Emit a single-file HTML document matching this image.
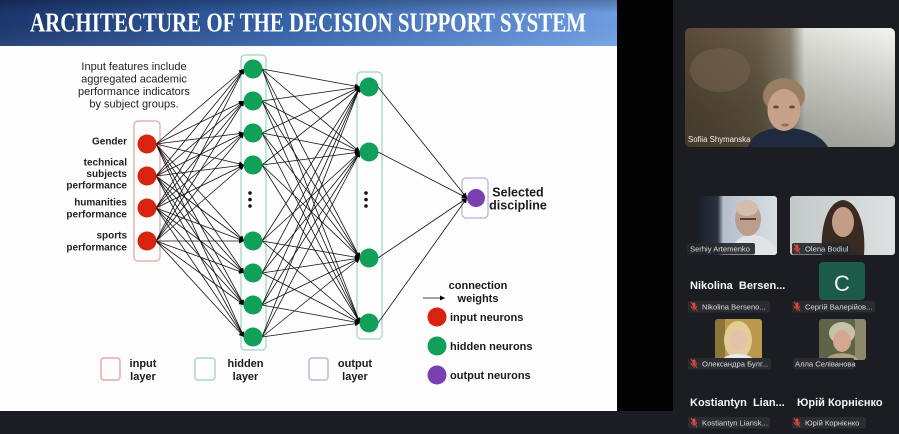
<!DOCTYPE html>
<html><head><meta charset="utf-8"><style>
html,body{margin:0;padding:0;background:#1b1d22;}
svg{display:block;}
.c line{stroke:#111;stroke-width:0.8;marker-end:url(#ah);}
.t{font-family:"Liberation Sans",Arial,sans-serif;}
.lb{font-family:"Liberation Sans","Noto Sans CJK SC",sans-serif;font-size:7.6px;fill:#dcdcdc;}
.nm{font-family:"Liberation Sans","Noto Sans CJK SC",sans-serif;font-size:11px;font-weight:bold;fill:#f4f4f4;}
</style></head><body>
<svg width="899" height="434" viewBox="0 0 899 434" xmlns="http://www.w3.org/2000/svg">
<defs>
<marker id="ah" viewBox="0 0 10 10" refX="10" refY="5" markerWidth="6" markerHeight="5" markerUnits="userSpaceOnUse" orient="auto"><path d="M0,0L10,5L0,10z" fill="#000"/></marker>
<linearGradient id="tg" x1="0" y1="0" x2="1" y2="0">
<stop offset="0" stop-color="#1a366c"/><stop offset="0.45" stop-color="#3461a8"/><stop offset="1" stop-color="#6e9ee2"/></linearGradient>
<linearGradient id="tv" x1="0" y1="0" x2="0" y2="1">
<stop offset="0" stop-color="#000" stop-opacity="0.25"/><stop offset="0.3" stop-color="#000" stop-opacity="0"/><stop offset="1" stop-color="#fff" stop-opacity="0.08"/></linearGradient>
<linearGradient id="mv" x1="0" y1="0" x2="1" y2="0">
<stop offset="0" stop-color="#5a4b38"/><stop offset="0.35" stop-color="#6a5c48"/><stop offset="0.5" stop-color="#8a8270"/><stop offset="0.57" stop-color="#dfe1da"/><stop offset="1" stop-color="#f4f5f0"/></linearGradient>
<linearGradient id="mv2" x1="0" y1="0" x2="0" y2="1">
<stop offset="0" stop-color="#000" stop-opacity="0"/><stop offset="1" stop-color="#1a1a10" stop-opacity="0.35"/></linearGradient>
<linearGradient id="s1" x1="0" y1="0" x2="1" y2="0">
<stop offset="0" stop-color="#1a1f2a"/><stop offset="0.25" stop-color="#2a3140"/><stop offset="0.32" stop-color="#b4bfcc"/><stop offset="1" stop-color="#d8dee4"/></linearGradient>
<linearGradient id="s2" x1="0" y1="0" x2="1" y2="0">
<stop offset="0" stop-color="#c3c8c8"/><stop offset="1" stop-color="#dde1e1"/></linearGradient>
</defs>

<!-- backgrounds -->
<rect x="0" y="0" width="899" height="434" fill="#1b1d22"/>
<rect x="617" y="0" width="56" height="411" fill="#030303"/>
<rect x="0" y="0" width="617" height="411" fill="#fdfdfd"/>

<!-- title -->
<rect x="0" y="0" width="617" height="46" fill="url(#tg)"/>
<rect x="0" y="0" width="617" height="46" fill="url(#tv)"/>
<text x="30" y="31.5" textLength="556" lengthAdjust="spacingAndGlyphs" font-family="'Liberation Serif',serif" font-weight="bold" font-size="27" fill="#fff">ARCHITECTURE OF THE DECISION SUPPORT SYSTEM</text>

<!-- intro text -->
<g class="t" font-size="11" fill="#222" text-anchor="middle">
<text x="134" y="70">Input features include</text>
<text x="134" y="82.5">aggregated academic</text>
<text x="134" y="95">performance indicators</text>
<text x="134" y="107.5">by subject groups.</text>
</g>

<!-- left labels -->
<g class="t" font-size="10" font-weight="bold" fill="#222" text-anchor="end">
<text x="127" y="144.5">Gender</text>
<text x="127" y="165.5">technical</text>
<text x="127" y="177">subjects</text>
<text x="127" y="188.5">performance</text>
<text x="127" y="205.5">humanities</text>
<text x="127" y="217.5">performance</text>
<text x="127" y="238.5">sports</text>
<text x="127" y="250.5">performance</text>
</g>

<!-- layer boxes -->
<rect x="134" y="121" width="26" height="140" rx="4" fill="none" stroke="#e6a3a3" stroke-width="1.2"/>
<rect x="241" y="55" width="25" height="295" rx="4" fill="none" stroke="#9dd5c5" stroke-width="1.2"/>
<rect x="357" y="72" width="25" height="267" rx="4" fill="none" stroke="#9dd5c5" stroke-width="1.2"/>
<rect x="462" y="178" width="26" height="40" rx="4" fill="none" stroke="#bcaedb" stroke-width="1.2"/>

<!-- connections -->
<g class="c">
<line x1="156" y1="144" x2="244" y2="69"/><line x1="156" y1="144" x2="244" y2="101"/><line x1="156" y1="144" x2="244" y2="133"/><line x1="156" y1="144" x2="244" y2="165"/><line x1="156" y1="144" x2="244" y2="241"/><line x1="156" y1="144" x2="244" y2="273"/><line x1="156" y1="144" x2="244" y2="305"/><line x1="156" y1="144" x2="244" y2="337"/>
<line x1="156" y1="176" x2="244" y2="69"/><line x1="156" y1="176" x2="244" y2="101"/><line x1="156" y1="176" x2="244" y2="133"/><line x1="156" y1="176" x2="244" y2="165"/><line x1="156" y1="176" x2="244" y2="241"/><line x1="156" y1="176" x2="244" y2="273"/><line x1="156" y1="176" x2="244" y2="305"/><line x1="156" y1="176" x2="244" y2="337"/>
<line x1="156" y1="208" x2="244" y2="69"/><line x1="156" y1="208" x2="244" y2="101"/><line x1="156" y1="208" x2="244" y2="133"/><line x1="156" y1="208" x2="244" y2="165"/><line x1="156" y1="208" x2="244" y2="241"/><line x1="156" y1="208" x2="244" y2="273"/><line x1="156" y1="208" x2="244" y2="305"/><line x1="156" y1="208" x2="244" y2="337"/>
<line x1="156" y1="241" x2="244" y2="69"/><line x1="156" y1="241" x2="244" y2="101"/><line x1="156" y1="241" x2="244" y2="133"/><line x1="156" y1="241" x2="244" y2="165"/><line x1="156" y1="241" x2="244" y2="241"/><line x1="156" y1="241" x2="244" y2="273"/><line x1="156" y1="241" x2="244" y2="305"/><line x1="156" y1="241" x2="244" y2="337"/>

<line x1="262" y1="69" x2="360" y2="87"/><line x1="262" y1="69" x2="360" y2="152"/><line x1="262" y1="69" x2="360" y2="258"/><line x1="262" y1="69" x2="360" y2="323"/>
<line x1="262" y1="101" x2="360" y2="87"/><line x1="262" y1="101" x2="360" y2="152"/><line x1="262" y1="101" x2="360" y2="258"/><line x1="262" y1="101" x2="360" y2="323"/>
<line x1="262" y1="133" x2="360" y2="87"/><line x1="262" y1="133" x2="360" y2="152"/><line x1="262" y1="133" x2="360" y2="258"/><line x1="262" y1="133" x2="360" y2="323"/>
<line x1="262" y1="165" x2="360" y2="87"/><line x1="262" y1="165" x2="360" y2="152"/><line x1="262" y1="165" x2="360" y2="258"/><line x1="262" y1="165" x2="360" y2="323"/>
<line x1="262" y1="241" x2="360" y2="87"/><line x1="262" y1="241" x2="360" y2="152"/><line x1="262" y1="241" x2="360" y2="258"/><line x1="262" y1="241" x2="360" y2="323"/>
<line x1="262" y1="273" x2="360" y2="87"/><line x1="262" y1="273" x2="360" y2="152"/><line x1="262" y1="273" x2="360" y2="258"/><line x1="262" y1="273" x2="360" y2="323"/>
<line x1="262" y1="305" x2="360" y2="87"/><line x1="262" y1="305" x2="360" y2="152"/><line x1="262" y1="305" x2="360" y2="258"/><line x1="262" y1="305" x2="360" y2="323"/>
<line x1="262" y1="337" x2="360" y2="87"/><line x1="262" y1="337" x2="360" y2="152"/><line x1="262" y1="337" x2="360" y2="258"/><line x1="262" y1="337" x2="360" y2="323"/>

<line x1="378" y1="87" x2="467" y2="198"/><line x1="378" y1="152" x2="467" y2="198"/><line x1="378" y1="258" x2="467" y2="198"/><line x1="378" y1="323" x2="467" y2="198"/>

<line x1="423" y1="298" x2="445" y2="298"/>
</g>

<!-- neurons -->
<g fill="#d8230f">
<circle cx="147" cy="144" r="9.5"/><circle cx="147" cy="176" r="9.5"/><circle cx="147" cy="208" r="9.5"/><circle cx="147" cy="241" r="9.5"/>
</g>
<g fill="#11a059">
<circle cx="253" cy="69" r="9.5"/><circle cx="253" cy="101" r="9.5"/><circle cx="253" cy="133" r="9.5"/><circle cx="253" cy="165" r="9.5"/>
<circle cx="253" cy="241" r="9.5"/><circle cx="253" cy="273" r="9.5"/><circle cx="253" cy="305" r="9.5"/><circle cx="253" cy="337" r="9.5"/>
<circle cx="369" cy="87" r="9.5"/><circle cx="369" cy="152" r="9.5"/><circle cx="369" cy="258" r="9.5"/><circle cx="369" cy="323" r="9.5"/>
</g>
<circle cx="476" cy="198" r="9" fill="#7a40b2"/>
<g fill="#111">
<circle cx="250" cy="193" r="1.8"/><circle cx="250" cy="199.5" r="1.8"/><circle cx="250" cy="206" r="1.8"/>
<circle cx="366" cy="193" r="1.8"/><circle cx="366" cy="199.5" r="1.8"/><circle cx="366" cy="206" r="1.8"/>
</g>

<!-- output label -->
<g class="t" font-size="12.5" font-weight="bold" fill="#1a1a1a" text-anchor="middle">
<text x="518" y="196.5">Selected</text>
<text x="518" y="209.5">discipline</text>
</g>

<!-- legend -->
<g class="t" font-size="11" font-weight="bold" fill="#1a1a1a">
<text x="478" y="289" text-anchor="middle">connection</text>
<text x="478" y="302" text-anchor="middle">weights</text>
<text x="450" y="321">input neurons</text>
<text x="450" y="350">hidden neurons</text>
<text x="450" y="379">output neurons</text>
</g>
<circle cx="437" cy="317" r="9.5" fill="#d8230f"/>
<circle cx="437" cy="346" r="9.5" fill="#11a059"/>
<circle cx="437" cy="375" r="9.5" fill="#7a40b2"/>

<!-- bottom legend -->
<rect x="101" y="358" width="19" height="22" rx="3" fill="none" stroke="#e8a8a8" stroke-width="1.5"/>
<rect x="195" y="358" width="20" height="22" rx="3" fill="none" stroke="#a8d8c8" stroke-width="1.5"/>
<rect x="309" y="358" width="19" height="22" rx="3" fill="none" stroke="#c2b6da" stroke-width="1.5"/>
<g class="t" font-size="11" font-weight="bold" fill="#1a1a1a" text-anchor="middle">
<text x="143" y="367">input</text><text x="143" y="380">layer</text>
<text x="245.5" y="367">hidden</text><text x="245.5" y="380">layer</text>
<text x="355" y="367">output</text><text x="355" y="380">layer</text>
</g>

<!-- ===== right panel ===== -->
<!-- main video -->
<clipPath id="mc"><rect x="685" y="28" width="210" height="119" rx="5"/></clipPath>
<g clip-path="url(#mc)">
<rect x="685" y="28" width="210" height="119" fill="url(#mv)"/>
<rect x="685" y="28" width="210" height="119" fill="url(#mv2)"/>
<ellipse cx="720" cy="70" rx="30" ry="22" fill="#7a6650" opacity="0.5"/>
<path d="M748,147 C752,134 765,128 784,128 C803,128 820,134 828,147 Z" fill="#1f2a3e"/>
<ellipse cx="784" cy="96" rx="21" ry="18" fill="#9a7e64"/>
<ellipse cx="784" cy="110" rx="16.5" ry="21" fill="#c8a18b"/>
<ellipse cx="776" cy="107" rx="3" ry="1.5" fill="#6a4a3a"/>
<ellipse cx="792" cy="107" rx="3" ry="1.5" fill="#6a4a3a"/>
<ellipse cx="785" cy="125" rx="4" ry="1.5" fill="#9a6a5a"/>
</g>
<text x="688" y="142" font-family="'Liberation Sans',sans-serif" font-size="7.8" fill="#f2f2f2">Sofiia Shymanska</text>

<!-- Serhiy -->
<clipPath id="c1"><rect x="698" y="196" width="79" height="59" rx="3"/></clipPath>
<g clip-path="url(#c1)">
<rect x="698" y="196" width="79" height="59" fill="url(#s1)"/>
<path d="M730,255 C733,238 745,233 760,236 C772,240 777,248 777,255 Z" fill="#e2e3e6"/>
<ellipse cx="748" cy="219" rx="13" ry="17" fill="#bd9e8c"/>
<ellipse cx="747" cy="208" rx="11" ry="8" fill="#d4bcae"/>
<rect x="740" y="218" width="16" height="2" fill="#5a4038"/>
</g>
<rect x="687" y="243" width="68" height="11.5" rx="2" fill="#25272b" opacity="0.92"/>
<text x="690" y="251.5" class="lb">Serhiy Artemenko</text>

<!-- Olena -->
<clipPath id="c2"><rect x="790" y="196" width="105" height="59" rx="3"/></clipPath>
<g clip-path="url(#c2)">
<rect x="790" y="196" width="105" height="59" fill="url(#s2)"/>
<path d="M822,255 C820,230 826,202 843,200 C860,202 866,230 864,255 Z" fill="#3b2a22"/>
<ellipse cx="843" cy="222" rx="11" ry="15" fill="#c49d89"/>
<path d="M826,255 C830,244 856,244 860,255 Z" fill="#2a2a30"/>
</g>
<rect x="792" y="243" width="58" height="11.5" rx="2" fill="#25272b" opacity="0.92"/>

<!-- C tile -->
<rect x="819" y="262" width="46" height="38" rx="4" fill="#1c5a4a"/>
<text x="842" y="291" text-anchor="middle" font-family="'Liberation Sans',sans-serif" font-size="22" fill="#f2f2f2">C</text>

<text x="690" y="289" class="nm" xml:space="preserve">Nikolina  Bersen...</text>

<rect x="688" y="301" width="82" height="11.5" rx="2" fill="#2a2c31"/>
<rect x="792" y="301" width="83" height="11.5" rx="2" fill="#2a2c31"/>

<!-- row 3 photos -->
<clipPath id="c3"><rect x="715" y="319" width="47" height="41" rx="3"/></clipPath>
<g clip-path="url(#c3)">
<rect x="715" y="319" width="47" height="41" fill="#b99a4c"/>
<rect x="715" y="319" width="10" height="41" fill="#8a7638"/>
<ellipse cx="738" cy="340" rx="14" ry="19" fill="#e3cd96"/>
<ellipse cx="738" cy="340" rx="8.5" ry="11" fill="#e4c2aa"/>
<path d="M722,360 C726,352 750,352 754,360 Z" fill="#e8e8ee"/>
</g>
<clipPath id="c4"><rect x="819" y="319" width="47" height="41" rx="3"/></clipPath>
<g clip-path="url(#c4)">
<rect x="819" y="319" width="47" height="41" fill="#5d6448"/>
<rect x="855" y="319" width="11" height="41" fill="#8a8a6a"/>
<ellipse cx="842" cy="333" rx="13" ry="11" fill="#c9c2aa"/>
<ellipse cx="842" cy="341" rx="9" ry="11" fill="#d6a78f"/>
<path d="M826,360 C829,351 855,351 858,360 Z" fill="#b49e7e"/>
</g>
<rect x="688" y="358" width="83" height="11.5" rx="2" fill="#2a2c31"/>
<rect x="793" y="358" width="61" height="11.5" rx="2" fill="#2a2c31"/>

<text x="690" y="406" class="nm" xml:space="preserve">Kostiantyn  Lian...</text>
<text x="797" y="406" class="nm">Юрій Корнієнко</text>

<rect x="688" y="417" width="82" height="11.5" rx="2" fill="#2a2c31"/>
<rect x="792" y="417" width="74" height="11.5" rx="2" fill="#2a2c31"/>

<!-- mic icons -->
<g stroke="#e0453c" stroke-width="0.9" fill="none">
<g transform="translate(797,248.5)"><rect x="-1.5" y="-4" width="3" height="5.5" rx="1.5" fill="#e0453c" stroke="none"/><path d="M-2.8,-0.5 a2.8,2.8 0 0 0 5.6,0 M0,2.3 v2 M-3,-4.5 L3,4.5"/></g>
<g transform="translate(694,306.5)"><rect x="-1.5" y="-4" width="3" height="5.5" rx="1.5" fill="#e0453c" stroke="none"/><path d="M-2.8,-0.5 a2.8,2.8 0 0 0 5.6,0 M0,2.3 v2 M-3,-4.5 L3,4.5"/></g>
<g transform="translate(797,306.5)"><rect x="-1.5" y="-4" width="3" height="5.5" rx="1.5" fill="#e0453c" stroke="none"/><path d="M-2.8,-0.5 a2.8,2.8 0 0 0 5.6,0 M0,2.3 v2 M-3,-4.5 L3,4.5"/></g>
<g transform="translate(694,363.5)"><rect x="-1.5" y="-4" width="3" height="5.5" rx="1.5" fill="#e0453c" stroke="none"/><path d="M-2.8,-0.5 a2.8,2.8 0 0 0 5.6,0 M0,2.3 v2 M-3,-4.5 L3,4.5"/></g>
<g transform="translate(694,422.5)"><rect x="-1.5" y="-4" width="3" height="5.5" rx="1.5" fill="#e0453c" stroke="none"/><path d="M-2.8,-0.5 a2.8,2.8 0 0 0 5.6,0 M0,2.3 v2 M-3,-4.5 L3,4.5"/></g>
<g transform="translate(797,422.5)"><rect x="-1.5" y="-4" width="3" height="5.5" rx="1.5" fill="#e0453c" stroke="none"/><path d="M-2.8,-0.5 a2.8,2.8 0 0 0 5.6,0 M0,2.3 v2 M-3,-4.5 L3,4.5"/></g>
</g>

<!-- label texts -->
<text x="805" y="251.5" class="lb">Olena Bodiul</text>
<text x="702" y="309.5" class="lb">Nikolina Berseno...</text>
<text x="805" y="309.5" class="lb">Сергій Валерійов...</text>
<text x="702" y="366.5" class="lb">Олександра Булг...</text>
<text x="795" y="366.5" class="lb">Алла Селіванова</text>
<text x="702" y="425.5" class="lb">Kostiantyn Liansk...</text>
<text x="805" y="425.5" class="lb">Юрій Корнієнко</text>
</svg>
</body></html>
